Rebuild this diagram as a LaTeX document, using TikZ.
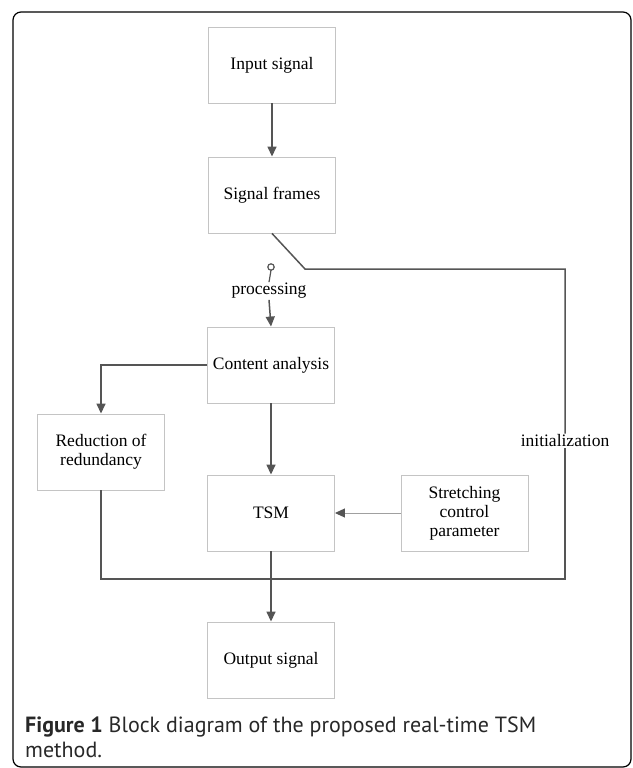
\documentclass[tikz,border=0pt]{standalone}
\usepackage{fontspec}
\setmainfont{Liberation Serif}
\newfontfamily\capfont{PT Sans}
\usetikzlibrary{arrows.meta}

\definecolor{boxgray}{RGB}{196,196,196}
\definecolor{linegray}{RGB}{85,85,85}
\definecolor{thingray}{RGB}{160,160,160}
\definecolor{captext}{RGB}{40,40,40}

\tikzset{
    blk/.style={draw=boxgray, line width=0.9pt, minimum width=127pt, minimum height=76pt,
        align=center, font=\fontsize{17.5}{19}\selectfont, inner sep=2pt},
    lbl/.style={font=\fontsize{17.5}{19}\selectfont, inner sep=1pt},
    conn/.style={draw=linegray, line width=1.5pt},
    arr/.style={conn, -{Triangle[length=10pt, width=9pt]}}
}

\begin{document}
\begin{tikzpicture}[x=1pt, y=-1pt]
            \useasboundingbox (0,0) rectangle (632,768);
            % Frame
            \draw[black, line width=1.2pt, rounded corners=8pt] (13,12) rectangle (631,767);
            % Blocks
            \foreach \n/\x/\y/\t in {input/272/65/Input signal, frames/272/195/Signal frames,
                content/271/365/Content analysis, reduce/101/452/Reduction of\\redundancy,
                tsm/271/513/TSM, stretch/464.5/513/Stretching\\control\\parameter,
                output/271/660/Output signal} {
                \node[blk] (\n) at (\x,\y) {\t};
            }
            \node[lbl] (proc) at (269,291) {processing};
            \node[lbl, fill=white] (init) at (565,441) {initialization};
            % Switch
            \coordinate (sw) at (271,267);
            \coordinate (kink) at (305,269);
            \coordinate (corner) at (565,579);
            \draw[linegray, line width=1.2pt] (sw) circle (3.2pt);
            \draw[linegray, line width=1.2pt] (271,270.2) -- (proc.north);
            % Connectors
            \draw[arr] (input) -- (frames);
            \draw[conn] (frames.south) -- (kink) -| (init.north);
            \draw[conn] (init.south) -- (corner) -| (reduce.south);
            \draw[arr] (proc.south) -- (content.north);
            \draw[arr] (content.west) -| (reduce.north);
            \draw[arr] (content) -- (tsm);
            \draw[draw=thingray, line width=1pt, -{Triangle[length=10pt, width=9pt, color=linegray]}] (stretch) -- (tsm);
            \draw[arr] (tsm) -- (output);
            % Caption
            \node[anchor=base west, align=left, inner sep=0pt, text=captext,
                font=\capfont\fontsize{22}{25}\selectfont] (cap) at (25,757)
                {\textbf{Figure 1} Block diagram of the proposed real-time TSM\\method.};
        \end{tikzpicture}
\end{document}
